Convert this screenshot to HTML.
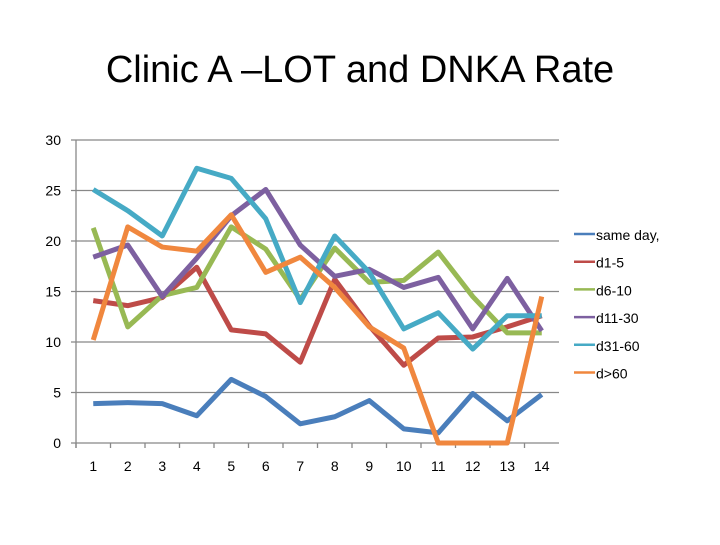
<!DOCTYPE html>
<html><head><meta charset="utf-8"><style>body{margin:0;background:#fff}svg{font-family:"Liberation Sans",sans-serif}</style></head>
<body>
<svg id="c" width="720" height="540">
<text x="360" y="82" text-anchor="middle" font-size="38" fill="#000">Clinic A –LOT and DNKA Rate</text>
<g id="plot"></g>
</svg>
<script>
const categories=["1","2","3","4","5","6","7","8","9","10","11","12","13","14"];
const yTicks=[0,5,10,15,20,25,30];
const seriesNames=["same day,","d1-5","d6-10","d11-30","d31-60","d>60"];
const sameDay=[3.9,4.0,3.9,2.7,6.3,4.6,1.9,2.6,4.2,1.4,1.0,4.9,2.2,4.8];
const d1to5=[14.1,13.6,14.4,17.4,11.2,10.8,8.0,16.2,11.6,7.7,10.4,10.5,11.5,12.6];
const d6to10=[21.3,11.5,14.6,15.4,21.4,19.2,14.2,19.3,15.9,16.1,18.9,14.5,10.9,10.9];
const d11to30=[18.4,19.6,14.5,18.3,22.5,25.1,19.6,16.5,17.2,15.4,16.4,11.3,16.3,11.1];
const d31to60=[25.1,23.0,20.5,27.2,26.2,22.2,13.9,20.5,16.9,11.3,12.9,9.3,12.6,12.6];
const dOver60=[10.2,21.4,19.4,19.0,22.6,16.9,18.4,15.4,11.5,9.4,0,0,0,14.5];
const seriesData=[sameDay,d1to5,d6to10,d11to30,d31to60,dOver60];
const colors=["#4a7ebb","#be4b48","#98b954","#7d60a0","#46aac5","#f0873e"];
const ns="http://www.w3.org/2000/svg";
const g=document.getElementById("plot");
const L=76,R=559,T=140,B=443,band=(R-L)/categories.length;
const xS=i=>L+band*(i+0.5);
const yS=v=>B-(v/30)*(B-T);
function mk(t,a){const e=document.createElementNS(ns,t);for(const k in a)e.setAttribute(k,a[k]);g.appendChild(e);return e;}
yTicks.forEach(v=>{
 const l=mk("line",{x1:L-5,x2:R,y1:yS(v),y2:yS(v),stroke:"#888","stroke-width":1.3});
 
 
 const t=mk("text",{x:L-15,y:yS(v)+5,"text-anchor":"end","font-size":14,fill:"#000"});
 t.textContent=v;
 
 
});
const ax=mk("line",{x1:L,x2:L,y1:T,y2:B+5,stroke:"#888","stroke-width":1.3});


categories.forEach((c,i)=>{
 const tk=mk("line",{x1:L+band*i,x2:L+band*i,y1:B,y2:B+5,stroke:"#888","stroke-width":1.3});
 
 
 const t=mk("text",{x:xS(i),y:B+28,"text-anchor":"middle","font-size":14,fill:"#000"});
 t.textContent=c;
 
 
});
seriesData.forEach((d,s)=>{
 const p=mk("polyline",{points:d.map((v,i)=>xS(i)+","+yS(v)).join(" "),fill:"none",stroke:colors[s],"stroke-width":5,"stroke-linejoin":"round"});
 
 
 const ly=234+s*27.7;
 const ll=mk("line",{x1:574,x2:595,y1:ly,y2:ly,stroke:colors[s],"stroke-width":2.5});
 
 
 const lt=mk("text",{x:596,y:ly+6,"font-size":14,fill:"#000"});
 lt.textContent=seriesNames[s];
 
 
});
</script>
</body></html>
